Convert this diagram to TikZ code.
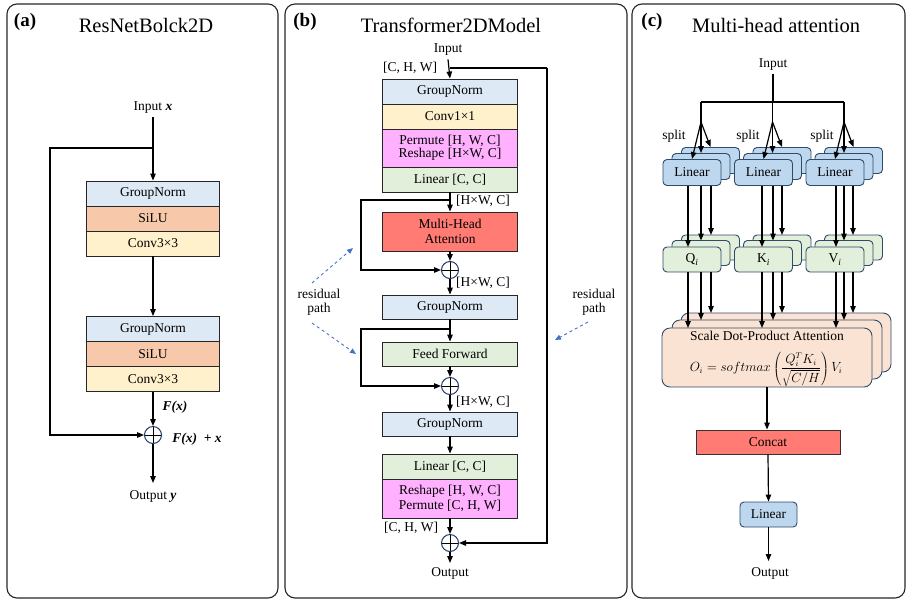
\documentclass[tikz,border=0pt]{standalone}
\usepackage{fontspec}
\setmainfont{Liberation Serif}
\usetikzlibrary{arrows.meta,calc}
\definecolor{gnc}{HTML}{DDE9F5}
\definecolor{siluc}{HTML}{F7C9AA}
\definecolor{convc}{HTML}{FFF1CC}
\definecolor{linc}{HTML}{E2EFDA}
\definecolor{permc}{HTML}{FFB0FF}
\definecolor{mhac}{HTML}{FF7B73}
\definecolor{lbluec}{HTML}{BDD7EE}
\definecolor{peachc}{HTML}{FBE3D4}
\definecolor{navyc}{HTML}{1F3864}
\definecolor{edgec}{HTML}{2F4A6B}
\definecolor{dashc}{HTML}{4472C4}
\newcommand{\fs}{\fontsize{13.5}{15.5}\selectfont}
\begin{document}
\begin{tikzpicture}[x=1pt,y=-1pt,
  every node/.style={font=\fs},
  blk/.style={draw=black!85, line width=0.9pt, minimum width=135pt, minimum height=25pt, inner sep=0pt, align=center},
  card/.style={draw=edgec, line width=0.9pt, rounded corners=4pt, minimum width=58pt, minimum height=26pt, inner sep=0pt},
  plusn/.style={circle, draw=navyc, line width=1pt, minimum size=17pt, inner sep=0pt,
     path picture={\draw[black, line width=1pt] (path picture bounding box.north) -- (path picture bounding box.south) (path picture bounding box.west) -- (path picture bounding box.east);}},
  arr/.style={line width=1.2pt, -{Triangle[length=7pt,width=5.5pt]}},
  ln/.style={line width=1.2pt},
  darr/.style={draw=dashc, line width=0.9pt, dashed, -{Triangle[length=6pt,width=5pt]}},
  panel/.style={draw=black!85, line width=1.1pt, rounded corners=10pt},
  ttl/.style={font=\fontsize{20.5}{23}\selectfont},
  lbl/.style={font=\fontsize{19}{21}\selectfont\bfseries}
]
\useasboundingbox (0,0) rectangle (907,600);
% panels
\draw[panel] (7,4) rectangle (278,598);
\draw[panel] (285,4) rectangle (627,598);
\draw[panel] (632,4) rectangle (905,598);
\node[lbl] (la) at (25,22) {(a)};
\node[lbl] (lb) at (305,22) {(b)};
\node[lbl] (lc) at (652,22) {(c)};
\node[ttl] (ta) at (146,25) {ResNetBolck2D};
\node[ttl] (tb) at (451,25) {Transformer2DModel};
\node[ttl] (tc) at (776,25) {Multi-head attention};

% ---------------- (a)
\tikzset{ablk/.style={blk, minimum width=133pt}}
\node (ain) at (153,108) {Input \textbf{\textit{x}}};
\node[ablk, fill=gnc] (a1) at (153,193.5) {GroupNorm};
\node[ablk, fill=siluc] (a2) at (153,218.5) {SiLU};
\node[ablk, fill=convc] (a3) at (153,243.5) {Conv3×3};
\node[ablk, fill=gnc] (a4) at (153,329) {GroupNorm};
\node[ablk, fill=siluc] (a5) at (153,354) {SiLU};
\node[ablk, fill=convc] (a6) at (153,379) {Conv3×3};
\node[plusn] (ap) at (153,435) {};
\node (afx) at (175,407) {\textbf{\textit{F(x)}}};
\node (afxx) at (197,439) {\textbf{\textit{F(x)\ \ + x}}};
\node (aout) at (153,496) {Output \textbf{\textit{y}}};
\coordinate (aj) at (153,148);
\coordinate (ac) at (50,435);
\coordinate (aoe) at (153,483);
\draw[arr] (ain.south) -- (a1.north);
\draw[arr] (a3.south) -- (a4.north);
\draw[arr] (a6.south) -- (ap.north);
\draw[arr] (aj) -| (ac) -- (ap.west);
\draw[arr] (ap.south) -- (aoe);

% ---------------- (b)
\node (bin) at (448,50) {Input};
\node (bchw1) at (410,68) {[C, H, W]};
\node[blk, fill=gnc] (b1) at (450,91.5) {GroupNorm};
\node[blk, fill=convc] (b2) at (450,116.5) {Conv1×1};
\node[blk, fill=permc, minimum height=38pt, font=\fs\linespread{0.85}\selectfont] (b3) at (450,148) {Permute [H, W, C]\\Reshape [H×W, C]};
\node[blk, fill=linc] (b4) at (450,179.5) {Linear [C, C]};
\node[blk, fill=mhac, minimum height=39pt] (bm) at (450,231.5) {Multi-Head\\Attention};
\node[plusn] (bp1) at (450,270) {};
\node[blk, fill=gnc, minimum height=24pt] (b5) at (450,307) {GroupNorm};
\node[blk, fill=linc, minimum height=24pt] (bf) at (450,354) {Feed Forward};
\node[plusn] (bp2) at (450,386) {};
\node[blk, fill=gnc, minimum height=24pt] (b6) at (450,424) {GroupNorm};
\node[blk, fill=linc] (b7) at (450,466.5) {Linear [C, C]};
\node[blk, fill=permc, minimum height=39pt] (b8) at (450,498.5) {Reshape [H, W, C]\\Permute [C, H, W]};
\node[plusn] (bp3) at (450,543) {};
\node (bout) at (450,573) {Output};
\node (bhw1) at (483,201) {[H×W, C]};
\node (bhw2) at (483,283) {[H×W, C]};
\node (bhw3) at (483,402) {[H×W, C]};
\node (bchw2) at (411,528) {[C, H, W]};
\node[align=center, font=\fs\linespread{0.9}\selectfont] (bres1) at (319,302) {residual\\path};
\node[align=center, font=\fs\linespread{0.9}\selectfont] (bres2) at (594,302) {residual\\path};
\coordinate (bj0) at (450,68);
\coordinate (bjr) at (547,68);
\coordinate (bj1) at (450,200);
\coordinate (bl1) at (361,270);
\coordinate (bj2) at (450,329);
\coordinate (bl2) at (361,386);
\coordinate (boe) at (450,563);
\coordinate (bd1s) at (312,283);
\coordinate (bd1e) at (353,248);
\coordinate (bd2s) at (312,323);
\coordinate (bd2e) at (356,354);
\coordinate (bd3s) at (588,322);
\coordinate (bd3e) at (555,340);
\draw[arr] (bin.south) -- (b1.north);
\draw[arr] (bjr) |- (bp3.east);
\draw[ln] (bj0) -- (bjr);
\draw[arr] (b4.south) -- (bm.north);
\draw[arr] (bm.south) -- (bp1.north);
\draw[arr] (bj1) -| (bl1) -- (bp1.west);
\draw[arr] (bp1.south) -- (b5.north);
\draw[arr] (b5.south) -- (bf.north);
\draw[arr] (bj2) -| (bl2) -- (bp2.west);
\draw[arr] (bf.south) -- (bp2.north);
\draw[arr] (bp2.south) -- (b6.north);
\draw[arr] (b6.south) -- (b7.north);
\draw[arr] (b8.south) -- (bp3.north);
\draw[arr] (bp3.south) -- (boe);
\draw[darr] (bd1s) -- (bd1e);
\draw[darr] (bd2s) -- (bd2e);
\draw[darr] (bd3s) -- (bd3e);

% ---------------- (c)
\node (cin) at (773,65) {Input};
\coordinate (cj) at (773,102);
\foreach \i/\cx in {1/692,2/763.5,3/835}{
  \node[card, fill=lbluec] (lk\i) at (\cx+18.5,160.5) {};
  \node[card, fill=lbluec] (lm\i) at (\cx+9,166.5) {};
  \node[card, fill=lbluec] (lf\i) at (\cx,172.5) {Linear};
  \node[card, fill=linc, minimum height=25pt] (qk\i) at (\cx+18.5,247.5) {};
  \node[card, fill=linc, minimum height=25pt] (qm\i) at (\cx+9,253) {};
  \coordinate (fan\i) at (\cx+9,122);
  \coordinate (top\i) at (\cx+9,102);
}
\node[card, fill=linc, minimum height=25pt] (qf1) at (692,259.5) {Q\textsubscript{\textit{i}}};
\node[card, fill=linc, minimum height=25pt] (qf2) at (763.5,259.5) {K\textsubscript{\textit{i}}};
\node[card, fill=linc, minimum height=25pt] (qf3) at (835,259.5) {V\textsubscript{\textit{i}}};
\node (sp1) at (674,136) {split};
\node (sp2) at (748,136) {split};
\node (sp3) at (822,136) {split};
\draw[ln] (cin.south) -- (cj);
\draw[ln] (top1) -- (top3);
\foreach \i in {1,2,3}{
  \draw[ln] (top\i) -- (fan\i);
  \draw[arr] (fan\i) -- (lf\i.north);
  \draw[arr] (fan\i) -- (lm\i.north);
  \draw[arr] (fan\i) -- (lk\i.north);
}
% SDPA stack
\tikzset{sdp/.style={draw=edgec, line width=0.9pt, rounded corners=8pt, fill=peachc, minimum width=210pt, minimum height=59pt}}
\node[sdp] (sk) at (786,342.5) {};
\node[sdp] (sm) at (777,349.5) {};
\node[sdp] (sf) at (767,357.5) {};
\node[inner sep=0pt] (stxt) at (767,335.5) {Scale Dot-Product Attention};
\node[inner sep=0pt, scale=0.92] (sfor) at (766,369.5) {$\displaystyle O_i = softmax\left(\frac{Q_i^T K_i}{\sqrt{C/H}}\right)V_i$};
% vertical arrows
\foreach \i/\xa/\xb/\xc in {1/688/701/711, 2/762/773/782, 3/836/844/853}{
  \draw[arr] (\xa,186) -- (\xa,247);
  \draw[arr] (\xb,186) -- (\xb,240.5);
  \draw[arr] (\xc,186) -- (\xc,235);
  \draw[arr] (\xa,272) -- (\xa,328);
  \draw[arr] (\xb,272) -- (\xb,320);
  \draw[arr] (\xc,272) -- (\xc,313);
}
\node[draw=black!80, line width=0.9pt, fill=mhac, minimum width=144pt, minimum height=24pt, inner sep=0pt] (ccat) at (768,442) {Concat};
\node[card, fill=lbluec, minimum width=57pt, minimum height=25pt] (clin) at (768.5,514.5) {Linear};
\node (cout) at (770,573) {Output};
\coordinate (coe) at (768.5,561);
\draw[arr] (sf.south) -- (sf.south |- ccat.north);
\draw[arr] (ccat.south) -- (clin.north);
\draw[arr] (clin.south) -- (coe);
\end{tikzpicture}
\end{document}
